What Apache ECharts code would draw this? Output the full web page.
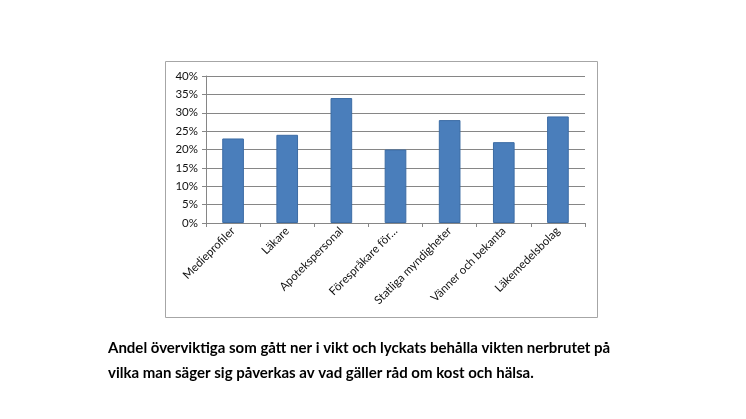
<!DOCTYPE html>
<html>
<head>
<meta charset="utf-8">
<script src="https://cdn.jsdelivr.net/npm/echarts@6/dist/echarts.min.js"></script>
<style>
  html, body { margin: 0; padding: 0; background: #fff; }
  #chart { width: 746px; height: 419px; }
</style>
</head>
<body>
<div id="chart"></div>
<script>
const categories = ['Medieprofiler', 'Läkare', 'Apotekspersonal', 'Förespråkare för…', 'Statliga myndigheter', 'Vänner och bekanta', 'Läkemedelsbolag'];
const shares = [23, 24, 34, 20, 28, 22, 29];
const captionLines = [
  'Andel överviktiga som gått ner i vikt och lyckats behålla vikten nerbrutet på',
  'vilka man säger sig påverkas av vad gäller råd om kost och hälsa.'
];

const myChart = echarts.init(document.getElementById('chart'));

const option = {
  animation: false,
  textStyle: { fontFamily: 'Lato' },
  grid: { left: 206, right: 161, top: 76, bottom: 196 },
  graphic: [
    {
      type: 'rect',
      shape: { x: 165.5, y: 61.5, width: 432, height: 256 },
      style: { fill: 'none', stroke: '#a6a6a6', lineWidth: 1 }
    },
    {
      type: 'text',
      left: 108,
      top: 336,
      style: {
        text: captionLines.join('\n'),
        font: 'bold 15px Lato',
        lineHeight: 25,
        fill: '#000'
      }
    }
  ],
  xAxis: {
    type: 'category',
    data: categories,
    axisLine: { lineStyle: { color: '#868686' } },
    axisTick: { show: true, length: 4, lineStyle: { color: '#868686' } },
    axisLabel: { rotate: 45, interval: 0, color: '#111', fontSize: 11.5, margin: 6 }
  },
  yAxis: {
    type: 'value',
    min: 0,
    max: 40,
    interval: 5,
    axisLine: { show: true, lineStyle: { color: '#868686' } },
    axisTick: { show: true, length: 4, lineStyle: { color: '#868686' } },
    splitLine: { lineStyle: { color: '#868686' } },
    axisLabel: { formatter: '{value}%', color: '#111', fontSize: 11.5, margin: 8 }
  },
  series: [
    {
      type: 'bar',
      data: shares,
      barWidth: '40%',
      itemStyle: { color: '#4a7ebb', borderColor: '#3c6ca5', borderWidth: 1 }
    }
  ]
};

myChart.setOption(option);
</script>
</body>
</html>
